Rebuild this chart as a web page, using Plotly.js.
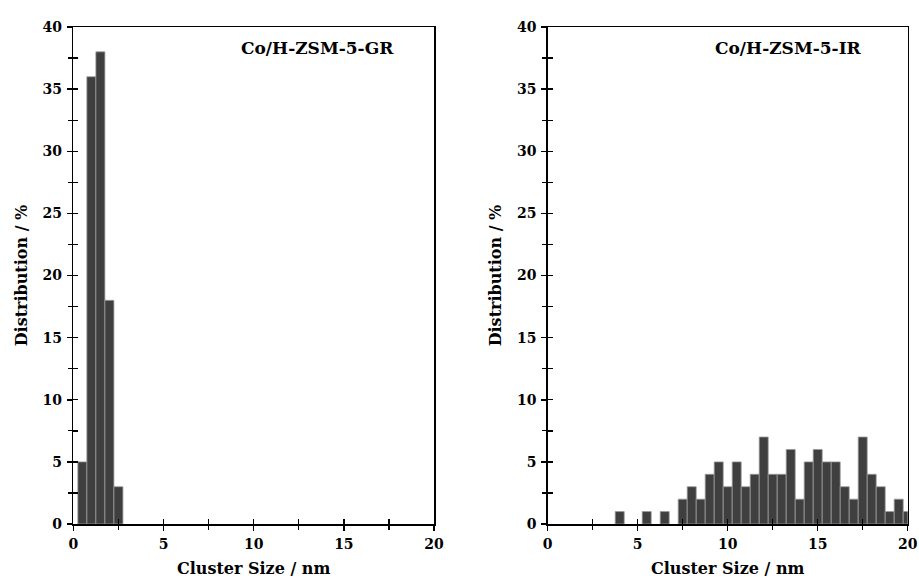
<!DOCTYPE html>
<html>
<head>
<meta charset="utf-8">
<script src="https://cdn.plot.ly/plotly-3.0.1.min.js"></script>
<style>html,body{margin:0;padding:0;background:#fff;}#chart{width:919px;height:581px;}</style>
</head>
<body>
<div id="chart"></div>
<script>
// Left panel: Co/H-ZSM-5-GR
const grSize = [0.5, 1.0, 1.5, 2.0, 2.5];
const grDist = [5, 36, 38, 18, 3];
// Right panel: Co/H-ZSM-5-IR
const irSize = [4.0, 5.5, 6.5, 7.5, 8.0, 8.5, 9.0, 9.5, 10.0, 10.5, 11.0, 11.5, 12.0, 12.5, 13.0, 13.5, 14.0, 14.5, 15.0, 15.5, 16.0, 16.5, 17.0, 17.5, 18.0, 18.5, 19.0, 19.5, 20.0];
const irDist = [1, 1, 1, 2, 3, 2, 4, 5, 3, 5, 3, 4, 7, 4, 4, 6, 2, 5, 6, 5, 5, 3, 2, 7, 4, 3, 1, 2, 1];
const binWidth = 0.5;
const xTickVals = [0, 5, 10, 15, 20];
const xMinorVals = [2.5, 7.5, 12.5, 17.5];
const yTickVals = [0, 5, 10, 15, 20, 25, 30, 35, 40];
const yMinorVals = [2.5, 7.5, 12.5, 17.5, 22.5, 27.5, 32.5, 37.5];
const panelLabels = ["Co/H-ZSM-5-GR", "Co/H-ZSM-5-IR"];
const xTitle = "Cluster Size / nm";
const yTitle = "Distribution / %";

const FONT = "DejaVu Serif, Liberation Serif, serif";
const barStyle = {color: "#3f3f3f", line: {color: "#9a9a9a", width: 0.8}};
const bold = v => "<b>" + v + "</b>";

const traces = [
  {type: "bar", x: grSize, y: grDist, width: binWidth, marker: barStyle, xaxis: "x", yaxis: "y"},
  {type: "bar", x: irSize, y: irDist, width: binWidth, marker: barStyle, xaxis: "x2", yaxis: "y2"},
  // empty carriers for the inside-tick companion axes
  {type: "scatter", x: [null], y: [null], mode: "lines", xaxis: "x3", yaxis: "y3"},
  {type: "scatter", x: [null], y: [null], mode: "lines", xaxis: "x4", yaxis: "y4"}
];

const dL = [0.0798, 0.4723];
const dR = [0.5960, 0.9877];
const dY = [0.0981, 0.9535];

function mainAx(domain, anchor, range, vals, minorVals, title) {
  return {
    domain: domain, anchor: anchor, range: range,
    tickmode: "array", tickvals: vals, ticktext: vals.map(bold),
    ticks: "outside", ticklen: 5, tickwidth: 1.5, tickcolor: "#000",
    minor: {tickmode: "array", tickvals: minorVals, ticks: "outside", ticklen: 4, tickwidth: 1.3, tickcolor: "#000"},
    showgrid: false, zeroline: false, fixedrange: true,
    showline: true, linecolor: "#000", linewidth: 1.5, mirror: true, ticklabelstandoff: 2,
    tickfont: {family: FONT, size: 14, color: "#000", weight: 700},
    title: {text: bold(title), font: {family: FONT, size: 16, color: "#000", weight: 700}, standoff: 11}
  };
}
// companion axis: same domain & range, ticks pointing inward (the inner half of crossing ticks)
function innerAx(domain, anchor, range, vals, minorVals) {
  const all = vals.concat(minorVals);
  return {
    domain: domain, anchor: anchor, range: range,
    tickmode: "array", tickvals: all, ticktext: all.map(() => ""),
    ticks: "inside", ticklen: 5, tickwidth: 1.4, tickcolor: "#000",
    showticklabels: true, tickfont: {size: 1, color: "rgba(0,0,0,0)"},
    showgrid: false, zeroline: false, showline: false, fixedrange: true, automargin: false
  };
}

const layout = {
  width: 919, height: 581,
  margin: {l: 0, r: 0, t: 0, b: 0},
  paper_bgcolor: "#fff", plot_bgcolor: "rgba(0,0,0,0)",
  showlegend: false, bargap: 0, hovermode: false,
  xaxis: mainAx(dL, "y", [0, 20], xTickVals, xMinorVals, xTitle),
  yaxis: mainAx(dY, "x", [0, 40], yTickVals, yMinorVals, yTitle),
  xaxis2: mainAx(dR, "y2", [0, 20], xTickVals, xMinorVals, xTitle),
  yaxis2: mainAx(dY, "x2", [0, 40], yTickVals, yMinorVals, yTitle),
  xaxis3: innerAx(dL, "y3", [0, 20], xTickVals, xMinorVals),
  yaxis3: innerAx(dY, "x3", [0, 40], yTickVals, yMinorVals),
  xaxis4: innerAx(dR, "y4", [0, 20], xTickVals, xMinorVals),
  yaxis4: innerAx(dY, "x4", [0, 40], yTickVals, yMinorVals),
  annotations: [
    {text: bold(panelLabels[0]), xref: "paper", yref: "paper", x: 0.345, y: 0.917, xanchor: "center", yanchor: "middle", showarrow: false, font: {family: FONT, size: 17, color: "#000"}},
    {text: bold(panelLabels[1]), xref: "paper", yref: "paper", x: 0.8585, y: 0.917, xanchor: "center", yanchor: "middle", showarrow: false, font: {family: FONT, size: 17, color: "#000"}}
  ]
};

Plotly.newPlot("chart", traces, layout, {displayModeBar: false, staticPlot: true});
</script>
</body>
</html>
